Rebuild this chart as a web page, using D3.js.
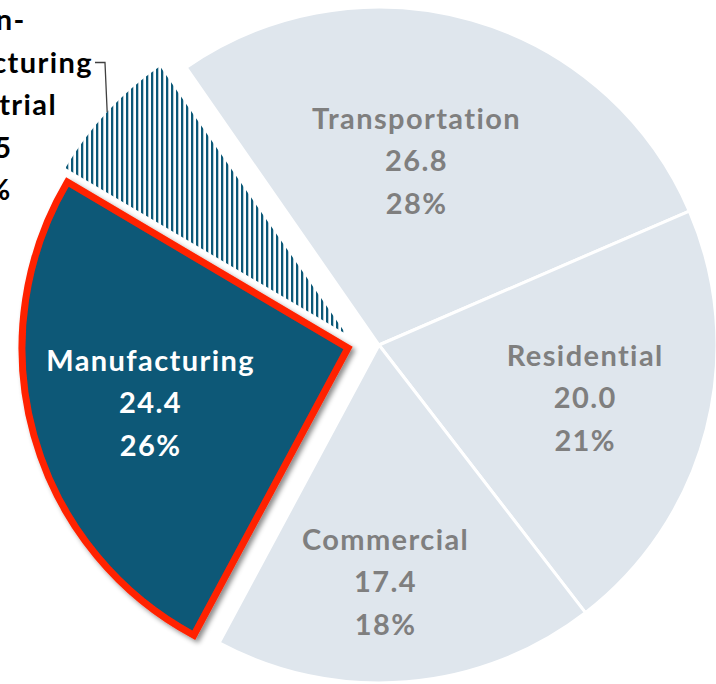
<!DOCTYPE html>
<html>
<head>
<meta charset="utf-8">
<script src="https://cdn.jsdelivr.net/npm/d3@7/dist/d3.min.js"></script>
<style>
  html, body { margin: 0; padding: 0; background: #ffffff; }
  svg { display: block; }
  text { font-family: Lato, "Open Sans", "Liberation Sans", sans-serif; font-weight: 700; letter-spacing: 1.4px; }
</style>
</head>
<body>
<svg id="chart" width="716" height="684"></svg>
<script>
// ---- data ----
const categories = ["Transportation", "Residential", "Commercial", "Manufacturing", "Non-manufacturing industrial"];
const values = [26.8, 20.0, 17.4, 24.4, 6.5];
const percentLabels = ["28%", "21%", "18%", "26%", "7%"];
const categoryLines = [["Transportation"], ["Residential"], ["Commercial"], ["Manufacturing"], ["Non-", "manufacturing", "industrial"]];

// ---- layout / style ----
const W = 716, H = 684;
const center = [379, 345];
const R = 338;          // main pie radius
const Rx = 326;         // exploded slices radius
const startDeg = -34.8;
const fontSize = 29;
const style = {
  "Transportation": { fill: "#dfe6ed", text: "#7f7f7f", offset: [0, 0], r: R, labelR: 188, labelDx: -14, labelDy: -3 },
  "Residential": { fill: "#dfe6ed", text: "#7f7f7f", offset: [0, 0], r: R, labelR: 213, labelDx: 0, labelDy: 0 },
  "Commercial": { fill: "#dfe6ed", text: "#7f7f7f", offset: [0, 0], r: R, labelR: 238, labelDx: -13, labelDy: 0 },
  "Manufacturing": { fill: "#0b5877", text: "#ffffff", offset: [-31, 3], r: Rx, labelR: 205, labelDx: 0, labelDy: 0 },
  "Non-manufacturing industrial": { fill: "url(#hatch)", text: "#000000", offset: [-33, -11], r: Rx }
};

const svg = d3.select("#chart");
const defs = svg.append("defs");
const pat = defs.append("pattern")
  .attr("id", "hatch").attr("patternUnits", "userSpaceOnUse")
  .attr("width", 5).attr("height", 10);
pat.append("rect").attr("x", 0).attr("y", 0).attr("width", 2.3).attr("height", 10).attr("fill", "#0b5877");

const f = defs.append("filter").attr("id", "shadow").attr("x", "-10%").attr("y", "-10%").attr("width", "130%").attr("height", "130%");
f.append("feDropShadow").attr("dx", 3).attr("dy", 3).attr("stdDeviation", 2.5).attr("flood-color", "#000").attr("flood-opacity", 0.45);

const rad = Math.PI / 180;
const pie = d3.pie().sort(null).value(d => d.value)
  .startAngle(startDeg * rad).endAngle(startDeg * rad + 2 * Math.PI);

const data = categories.map((c, i) => ({ cat: c, value: values[i], pct: percentLabels[i], lines: categoryLines[i] }));
const arcs = pie(data);

const g = svg.append("g").attr("transform", `translate(${center[0]},${center[1]})`);

arcs.forEach(a => {
  const s = style[a.data.cat];
  const arcGen = d3.arc().innerRadius(0).outerRadius(s.r);
  const sg = g.append("g").attr("transform", `translate(${s.offset[0]},${s.offset[1]})`);
  const p = sg.append("path").attr("d", arcGen(a)).attr("fill", s.fill);
  if (a.data.cat === "Manufacturing") {
    p.attr("stroke", "#ff2200").attr("stroke-width", 7).attr("stroke-linejoin", "miter").attr("filter", "url(#shadow)");
  } else if (s.fill !== "url(#hatch)") {
    p.attr("stroke", "#ffffff").attr("stroke-width", 3).attr("stroke-linejoin", "round");
  }
});

// labels
const lineH = 42.5;
arcs.forEach(a => {
  const s = style[a.data.cat];
  const lines = a.data.lines.concat([a.data.value.toFixed(1), a.data.pct]);
  const mid = (a.startAngle + a.endAngle) / 2;
  if (a.data.cat === "Non-manufacturing industrial") {
    // outside label with leader line
    const lx = -10 - center[0], ly0 = 30 - center[1];
    const tg = g.append("g");
    let manuEnd = null;
    lines.forEach((t, i) => {
      const tx = tg.append("text").attr("x", lx).attr("y", ly0 + i * lineH)
        .attr("text-anchor", "middle").attr("font-size", fontSize).attr("fill", s.text).text(t);
      if (i === 1) manuEnd = lx + tx.node().getComputedTextLength() / 2;
    });
    const px = s.offset[0] + Math.sin(mid) * s.r, py = s.offset[1] - Math.cos(mid) * s.r;
    const yL = ly0 + lineH - 10;
    g.append("path")
      .attr("d", d3.line()([[manuEnd + 2, yL], [manuEnd + 12, yL], [px, py]]))
      .attr("fill", "none").attr("stroke", "#404040").attr("stroke-width", 1.3);
  } else {
    const cx = s.offset[0] + Math.sin(mid) * s.labelR + s.labelDx;
    const cy = s.offset[1] - Math.cos(mid) * s.labelR + s.labelDy;
    lines.forEach((t, i) => {
      g.append("text").attr("x", cx).attr("y", cy + (i - (lines.length - 1) / 2) * lineH + 10)
        .attr("text-anchor", "middle").attr("font-size", fontSize).attr("fill", s.text).text(t);
    });
  }
});
</script>
</body>
</html>
